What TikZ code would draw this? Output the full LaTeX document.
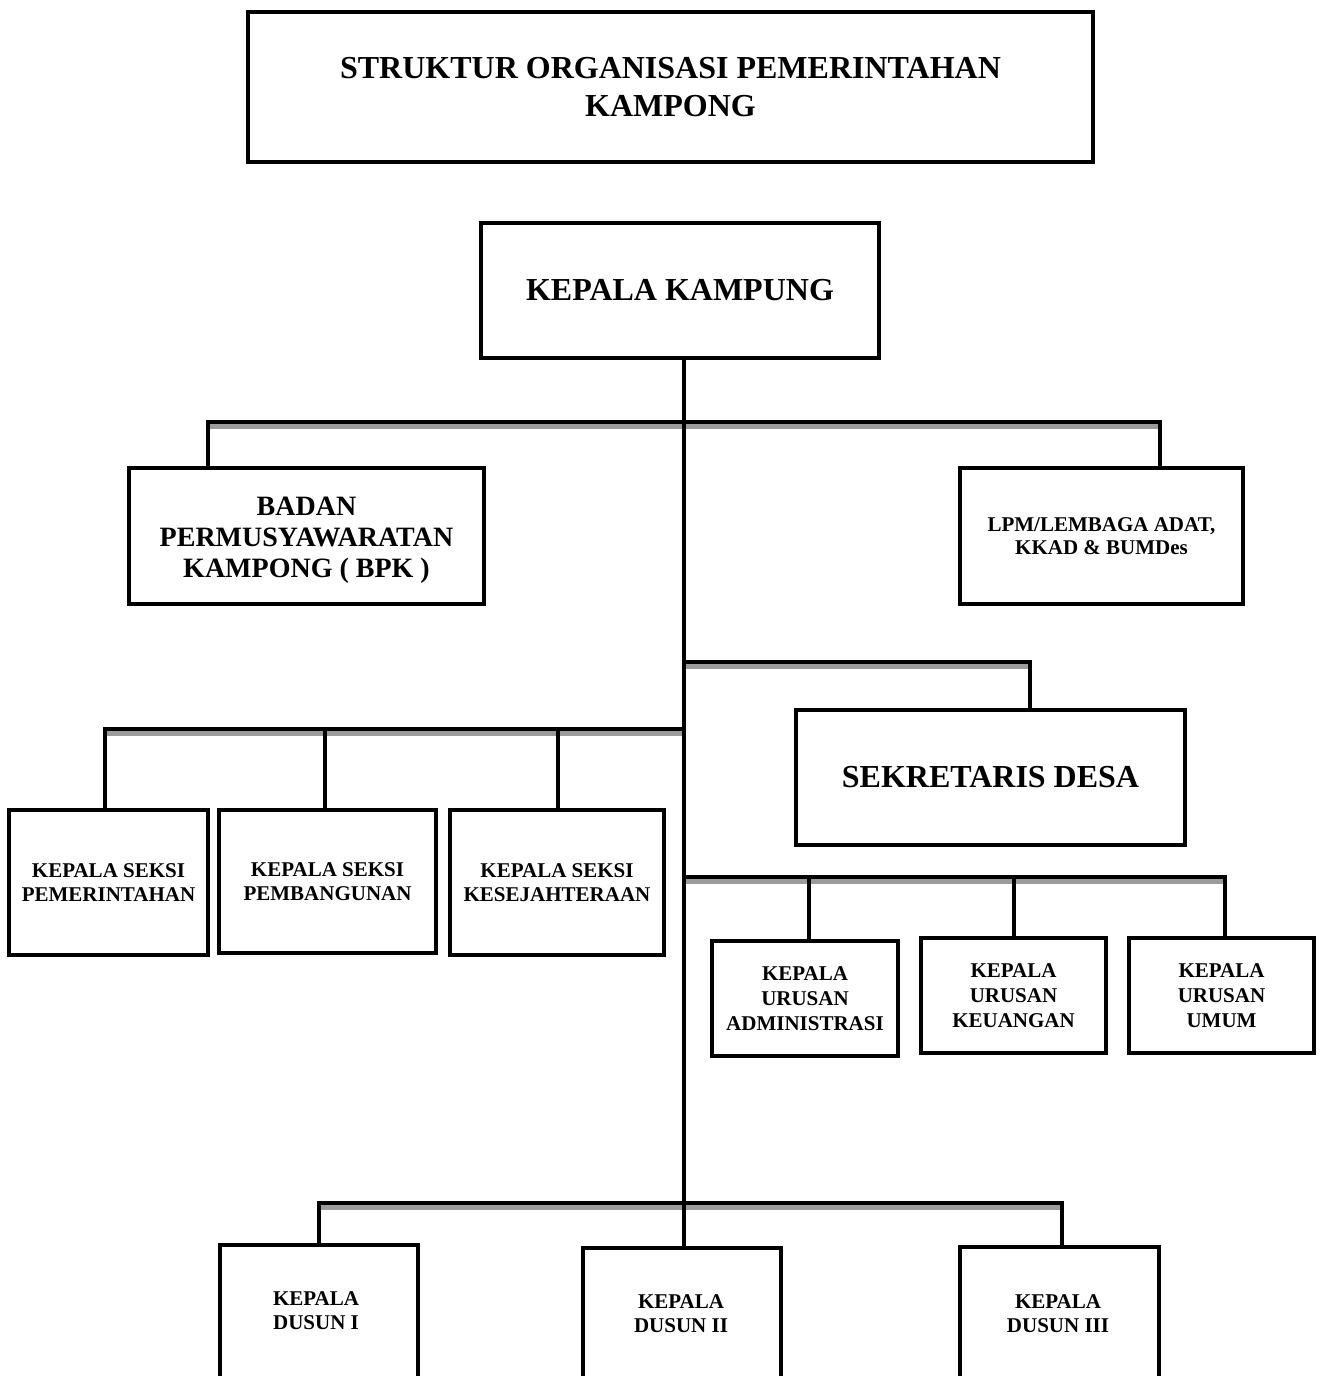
\documentclass[tikz,border=0pt]{standalone}
\usepackage{fontspec}
\setmainfont{Liberation Serif}
\definecolor{shgray}{RGB}{155,155,155}
\begin{document}
\begin{tikzpicture}[x=0.5pt,y=-0.5pt,
  box/.style={draw=black,line width=2pt,fill=white,inner sep=0pt,align=center,font=\bfseries},
  big/.style={font=\bfseries\fontsize{16}{19}\selectfont},
  mid/.style={font=\bfseries\fontsize{14}{15.5}\selectfont},
  small/.style={font=\bfseries\fontsize{10.5}{12}\selectfont},
  smallb/.style={font=\bfseries\fontsize{10.5}{12.5}\selectfont},
  lbl/.style={align=center,inner sep=0pt},
  bar/.style={line width=2.4pt,line cap=rect,preaction={draw=shgray,line width=2.4pt,transform canvas={yshift=-2.4pt}}},
  drop/.style={line width=2.4pt,line cap=rect}]
\useasboundingbox (0,0) rectangle (1322,1376);
\clip (0,0) rectangle (1322,1376);

% boxes
\node[box,big,minimum width=422.5pt,minimum height=75pt] (title) at (670.5,87)
  {STRUKTUR ORGANISASI PEMERINTAHAN\\KAMPONG};
\node[box,big,minimum width=199pt,minimum height=67.5pt] (kk) at (680,290.5) {KEPALA KAMPUNG};
\node[box,minimum width=177.5pt,minimum height=68pt] (bpk) at (306.5,536) {};
\node[lbl,mid] (bpkt) at (306.5,540) {BADAN\\PERMUSYAWARATAN\\KAMPONG ( BPK )};
\node[box,font=\bfseries\fontsize{10.5}{11.5}\selectfont,minimum width=141.5pt,minimum height=68pt] (lpm) at (1101.5,536)
  {LPM/LEMBAGA ADAT,\\KKAD \& BUMDes};
\node[box,big,minimum width=194.5pt,minimum height=67.5pt] (sek) at (990.5,777.5) {SEKRETARIS DESA};

\node[box,small,minimum width=99.5pt,minimum height=72.5pt] (ks1) at (108.5,882.5) {KEPALA SEKSI\\PEMERINTAHAN};
\node[box,small,minimum width=108.5pt,minimum height=71.5pt] (ks2) at (327.5,881.5) {KEPALA SEKSI\\PEMBANGUNAN};
\node[box,small,minimum width=107pt,minimum height=72.5pt] (ks3) at (557,882.5) {KEPALA SEKSI\\KESEJAHTERAAN};

\node[box,smallb,minimum width=93pt,minimum height=57.5pt] (ku1) at (805,998.5) {KEPALA\\URUSAN\\ADMINISTRASI};
\node[box,smallb,minimum width=92.5pt,minimum height=57.5pt] (ku2) at (1013.5,995.5) {KEPALA\\URUSAN\\KEUANGAN};
\node[box,smallb,minimum width=92.5pt,minimum height=57.5pt] (ku3) at (1221.5,995.5) {KEPALA\\URUSAN\\UMUM};

\node[box,anchor=north,minimum width=99pt,minimum height=100pt] (d1) at (319,1243) {};
\node[box,anchor=north,minimum width=99pt,minimum height=100pt] (d2) at (682,1246) {};
\node[box,anchor=north,minimum width=99.5pt,minimum height=100pt] (d3) at (1059.5,1245) {};
\node[lbl,small] (d1t) at (316,1311) {KEPALA\\DUSUN I};
\node[lbl,small] (d2t) at (681,1314) {KEPALA\\DUSUN II};
\node[lbl,small] (d3t) at (1058,1314) {KEPALA\\DUSUN III};

% junction coordinates
\coordinate (tr) at (684,0);
\coordinate (h1L) at (208,422);  \coordinate (h1R) at (1160,422);
\coordinate (h2L) at (684,662);  \coordinate (h2R) at (1030,662);
\coordinate (h3L) at (105,729);  \coordinate (h3R) at (684,729);
\coordinate (h3a) at (325,729);  \coordinate (h3b) at (558,729);
\coordinate (h4L) at (684,877);  \coordinate (h4R) at (1225,877);
\coordinate (h4a) at (809,877);  \coordinate (h4b) at (1014,877);
\coordinate (h5L) at (319,1203); \coordinate (h5R) at (1062,1203);

% horizontal bars with shadow
\draw[bar] (h1L) -- (h1R);
\draw[bar] (h2L) -- (h2R);
\draw[bar] (h3L) -- (h3R);
\draw[bar] (h4L) -- (h4R);
\draw[bar] (h5L) -- (h5R);

% trunk
\draw[drop] (kk.south -| tr) -- (d2.north -| tr);

% drops
\draw[drop] (h1L) -- (h1L |- bpk.north);
\draw[drop] (h1R) -- (h1R |- lpm.north);
\draw[drop] (h2R) -- (h2R |- sek.north);
\draw[drop] (h3L) -- (h3L |- ks1.north);
\draw[drop] (h3a) -- (h3a |- ks2.north);
\draw[drop] (h3b) -- (h3b |- ks3.north);
\draw[drop] (h4a) -- (h4a |- ku1.north);
\draw[drop] (h4b) -- (h4b |- ku2.north);
\draw[drop] (h4R) -- (h4R |- ku3.north);
\draw[drop] (h5L) -- (h5L |- d1.north);
\draw[drop] (h5R) -- (h5R |- d3.north);
\end{tikzpicture}
\end{document}
